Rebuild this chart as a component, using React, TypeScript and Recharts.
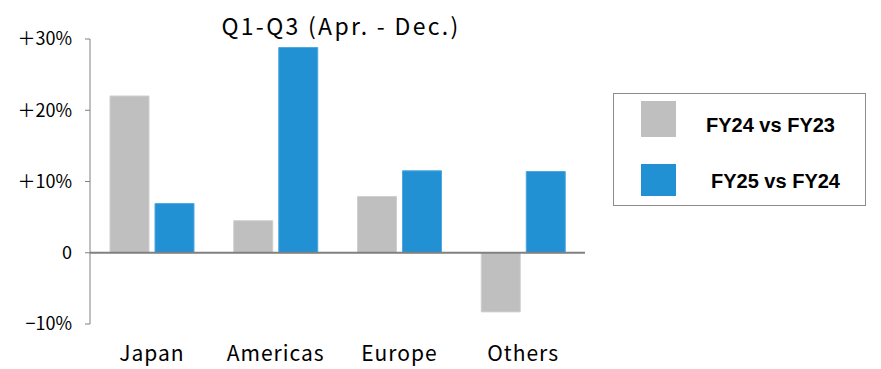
import React from 'react';
import { BarChart, Bar, XAxis, YAxis, ReferenceLine, Legend } from 'recharts';

const categories = ['Japan', 'Americas', 'Europe', 'Others'];
const fy24vs23 = [22.0, 4.5, 7.9, -8.3];
const fy25vs24 = [6.9, 28.8, 11.5, 11.4];
const seriesNames = ['FY24 vs FY23', 'FY25 vs FY24'];
const yTicks = [-10, 0, 10, 20, 30];
const yTickLabels = ['−10%', '0', '＋10%', '＋20%', '＋30%'];
const title = 'Q1-Q3 (Apr. - Dec.)';

const data = categories.map((c, i) => ({ name: c, a: fy24vs23[i], b: fy25vs24[i] }));
const colors = ['#BFBFBF', '#2191D4'];
const strokes = ['#CFCFCF', '#4DA7E0'];
const FONT = '"Noto Sans CJK JP", "Noto Sans", sans-serif';

const XTick = (props: any) => {
  const { x, y, payload } = props;
  return (
    <text x={x} y={y + 29} textAnchor="middle" fontFamily={FONT} fontSize={21} letterSpacing={1} fill="#000">
      {payload.value}
    </text>
  );
};

const swatchPos = [
  { top: 7, height: 36 },
  { top: 70, height: 32 },
];
const textPos = [
  { left: 92, center: 31 },
  { left: 97, center: 87 },
];

const LegendBox = () => (
  <div
    style={{
      width: 251,
      height: 111,
      border: '1px solid #8C8C8C',
      background: '#fff',
      position: 'relative',
      fontFamily: '"Liberation Sans", Arial, sans-serif',
      fontWeight: 'bold',
      fontSize: 20,
      color: '#000',
    }}
  >
    {seriesNames.map((n, i) => (
      <React.Fragment key={n}>
        <div
          style={{
            position: 'absolute',
            left: 27,
            top: swatchPos[i].top,
            width: 35,
            height: swatchPos[i].height,
            background: colors[i],
          }}
        />
        <div
          style={{
            position: 'absolute',
            left: textPos[i].left,
            top: textPos[i].center - 12,
            height: 24,
            lineHeight: '24px',
            whiteSpace: 'nowrap',
          }}
        >
          {n}
        </div>
      </React.Fragment>
    ))}
  </div>
);

export default function App() {
  return (
    <div style={{ position: 'absolute', left: 0, top: 0, width: 881, height: 369, background: '#fff' }}>
      <BarChart
        width={881}
        height={369}
        data={data}
        margin={{ top: 39, right: 296, bottom: 0, left: 0 }}
        barGap={6}
        barSize={39}
      >
        <XAxis dataKey="name" axisLine={false} tickLine={false} height={45} tick={<XTick />} interval={0} />
        <YAxis
          width={90}
          domain={[-10, 30]}
          ticks={yTicks}
          interval={0}
          tickSize={5}
          tickMargin={13}
          axisLine={{ stroke: '#808080' }}
          tickLine={{ stroke: '#808080' }}
          tick={{ fontFamily: FONT, fontSize: 18, fill: '#000' }}
          tickFormatter={(v: number) => yTickLabels[yTicks.indexOf(v)]}
        />
        <Bar dataKey="a" name={seriesNames[0]} fill={colors[0]} stroke={strokes[0]} strokeWidth={1} isAnimationActive={false} />
        <Bar dataKey="b" name={seriesNames[1]} fill={colors[1]} stroke={strokes[1]} strokeWidth={1} isAnimationActive={false} />
        <ReferenceLine y={0} stroke="#808080" strokeWidth={2} />
        <Legend
          layout="vertical"
          align="center"
          verticalAlign="middle"
          wrapperStyle={{ left: 613, top: 93, width: 253 }}
          content={() => <LegendBox />}
        />
      </BarChart>
      <div
        style={{
          position: 'absolute',
          left: 341,
          top: 8,
          transform: 'translateX(-50%)',
          whiteSpace: 'nowrap',
          fontFamily: FONT,
          fontSize: 23,
          letterSpacing: 2.3,
          lineHeight: '34px',
          color: '#000',
        }}
      >
        {title}
      </div>
    </div>
  );
}
